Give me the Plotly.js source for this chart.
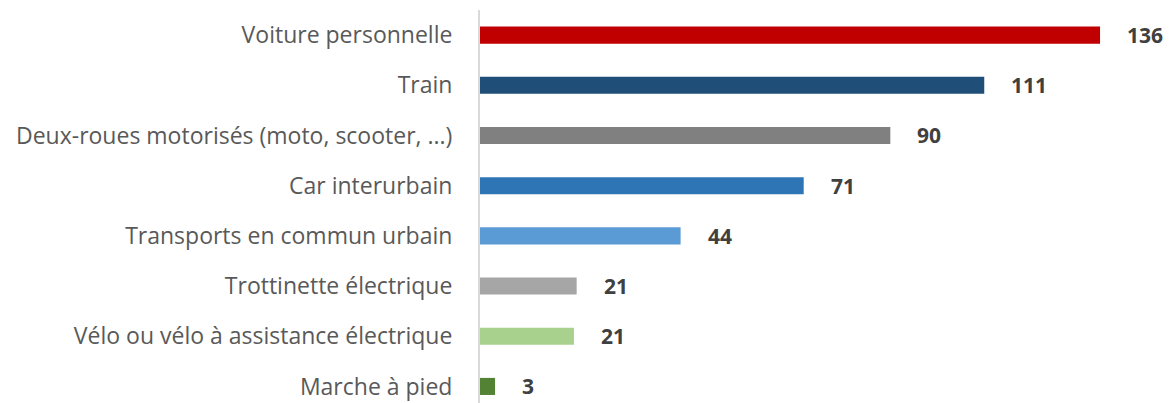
<!DOCTYPE html>
<html>
<head>
<meta charset="utf-8">
<script src="https://cdn.plot.ly/plotly-3.0.1.min.js"></script>
<style>html,body{margin:0;padding:0;background:#fff;}#chart{width:1173px;height:403px;}</style>
</head>
<body>
<div id="chart"></div>
<script>
const categories = [
  "Voiture personnelle",
  "Train",
  "Deux-roues motorisés (moto, scooter, ...)",
  "Car interurbain",
  "Transports en commun urbain",
  "Trottinette électrique",
  "Vélo ou vélo à assistance électrique",
  "Marche à pied"
];
const values = [136, 110.6, 90, 71, 44, 21.2, 20.6, 3.3];
const valueLabels = ["136", "111", "90", "71", "44", "21", "21", "3"];
const barColors = ["#C00000", "#1F4E79", "#808080", "#2E75B6", "#5B9BD5", "#A6A6A6", "#A9D18E", "#548235"];

const trace = {
  type: "bar",
  orientation: "h",
  x: values,
  y: categories,
  marker: { color: barColors },
  hoverinfo: "none"
};

const annotations = categories.map((c, i) => ({
  x: values[i],
  y: c,
  xref: "x",
  yref: "y",
  text: valueLabels[i],
  showarrow: false,
  xanchor: "left",
  yanchor: "middle",
  xshift: 25,
  font: { family: "Open Sans, sans-serif", size: 21, color: "#404040", weight: "bold" }
}));

const layout = {
  width: 1173,
  height: 403,
  margin: { l: 480, r: 0, t: 10, b: 0, pad: 0 },
  paper_bgcolor: "#ffffff",
  plot_bgcolor: "#ffffff",
  showlegend: false,
  bargap: 0.66,
  xaxis: {
    range: [0, 152],
    showgrid: false,
    zeroline: false,
    showline: false,
    showticklabels: false,
    ticks: "",
    fixedrange: true
  },
  yaxis: {
    type: "category",
    categoryorder: "array",
    categoryarray: categories,
    range: [7.33, -0.5],
    showgrid: false,
    zeroline: false,
    showline: true,
    linecolor: "#D9D9D9",
    linewidth: 2,
    ticks: "",
    ticklabelstandoff: 21,
    tickfont: { family: "Open Sans, sans-serif", size: 23, color: "#595959" },
    fixedrange: true
  },
  annotations: annotations
};

Plotly.newPlot("chart", [trace], layout, { displayModeBar: false, staticPlot: true });
</script>
</body>
</html>
